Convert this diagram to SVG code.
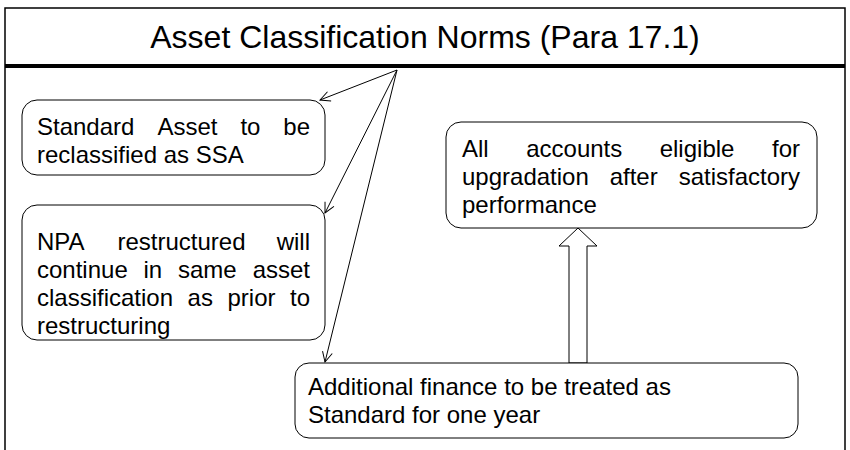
<svg xmlns="http://www.w3.org/2000/svg" width="850" height="450" viewBox="0 0 850 450">
<defs>
<style>
.frame{fill:none;stroke:#000;stroke-width:1.5}
.box{fill:#fff;stroke:#000;stroke-width:1}
.t{font-family:"Liberation Sans",Arial,sans-serif;font-size:24px;fill:#000}
.title{font-family:"Liberation Sans",Arial,sans-serif;font-size:32px;fill:#000}
.conn{fill:none;stroke:#000;stroke-width:1}
</style>
<marker id="open" viewBox="0 0 12 12" refX="11" refY="6" markerWidth="12" markerHeight="12" markerUnits="userSpaceOnUse" orient="auto">
<path d="M1,1 L11,6 L1,11" fill="none" stroke="#000" stroke-width="1"/>
</marker>
</defs>
<rect width="850" height="450" fill="#fff"/>
<g id="frame">
<rect class="frame" x="5" y="8" width="840" height="460"/>
<line x1="5" y1="66" x2="845" y2="66" stroke="#000" stroke-width="4"/>
<text class="title" x="425" y="48" text-anchor="middle">Asset Classification Norms (Para 17.1)</text>
</g>
<g id="connectors">
<line class="conn" x1="397" y1="70" x2="320" y2="100" marker-end="url(#open)"/>
<line class="conn" x1="397" y1="70" x2="325" y2="213" marker-end="url(#open)"/>
<line class="conn" x1="397" y1="70" x2="325" y2="362" marker-end="url(#open)"/>
<polygon class="box" points="569,363 569,246 559,246 578,228 597,246 587,246 587,363"/>
</g>
<g id="node-standard">
<rect class="box" x="22" y="100" width="303" height="75" rx="15"/>
<text class="t" y="135"><tspan x="37">Standard</tspan><tspan x="157.4">Asset</tspan><tspan x="240.4">to</tspan><tspan x="310" text-anchor="end">be</tspan></text>
<text class="t" x="37" y="163">reclassified as SSA</text>
</g>
<g id="node-npa">
<rect class="box" x="22" y="205" width="303" height="135" rx="15"/>
<text class="t" y="250"><tspan x="37">NPA</tspan><tspan x="117.5">restructured</tspan><tspan x="310" text-anchor="end">will</tspan></text>
<text class="t" y="278"><tspan x="37">continue</tspan><tspan x="143.5">in</tspan><tspan x="178">same</tspan><tspan x="310" text-anchor="end">asset</tspan></text>
<text class="t" y="306"><tspan x="37">classification</tspan><tspan x="187.6">as</tspan><tspan x="227.5">prior</tspan><tspan x="310" text-anchor="end">to</tspan></text>
<text class="t" x="37" y="334">restructuring</text>
</g>
<g id="node-upgrade">
<rect class="box" x="446" y="122" width="371" height="106" rx="15"/>
<text class="t" y="157"><tspan x="462">All</tspan><tspan x="526.2">accounts</tspan><tspan x="659.7">eligible</tspan><tspan x="800" text-anchor="end">for</tspan></text>
<text class="t" y="185"><tspan x="462">upgradation</tspan><tspan x="609.7">after</tspan><tspan x="800" text-anchor="end">satisfactory</tspan></text>
<text class="t" x="462" y="213">performance</text>
</g>
<g id="node-additional">
<rect class="box" x="295" y="363" width="503" height="75" rx="14"/>
<text class="t" x="308" y="395">Additional finance to be treated as</text>
<text class="t" x="308" y="423">Standard for one year</text>
</g>
</svg>
